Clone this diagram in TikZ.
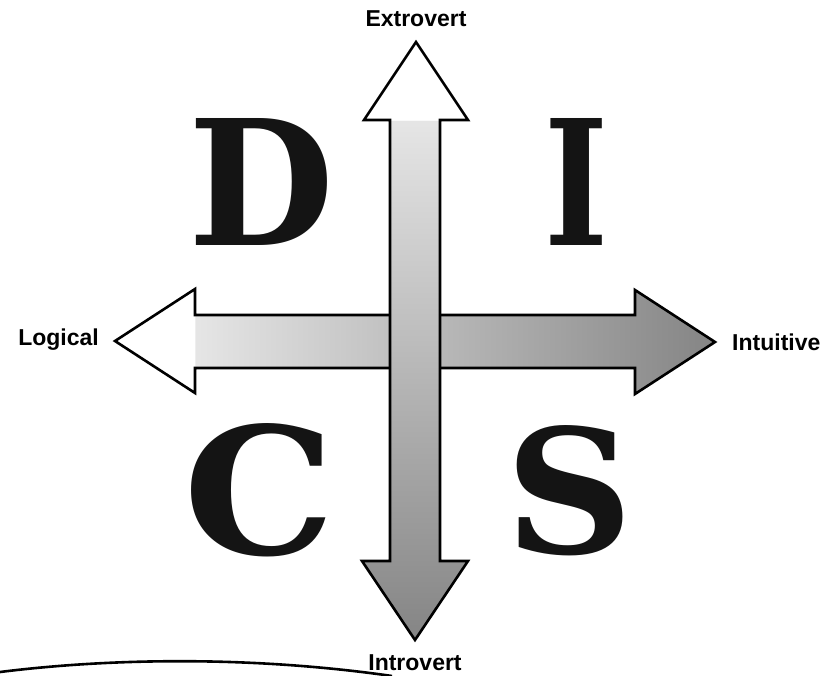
\documentclass[tikz,border=0pt]{standalone}
\usepackage{fontspec}
\usepackage{graphicx}
\setmainfont{Liberation Sans}
\newfontfamily\letterfont{DejaVu Serif}[BoldFont={DejaVu Serif Bold}]
\definecolor{shlight}{gray}{0.90}
\definecolor{shdark}{gray}{0.52}
\pgfdeclareverticalshading{vertshade}{100bp}{color(0bp)=(shdark); color(25bp)=(shdark); color(68.4bp)=(shlight); color(68.5bp)=(white); color(100bp)=(white)}
\pgfdeclarehorizontalshading{horshade}{100bp}{color(0bp)=(white); color(31.6bp)=(white); color(31.7bp)=(shlight); color(75bp)=(shdark); color(100bp)=(shdark)}
\tikzset{
  bigarrow/.style={draw=black, line width=2.6pt, line join=miter},
  axislabel/.style={font=\fontsize{23}{25}\selectfont\bfseries, inner sep=0pt},
  bigletter/.style={inner sep=0pt, text=black!92}
}
\begin{document}
\begin{tikzpicture}[x=1pt,y=-1pt]
\useasboundingbox (0,0) rectangle (832,676);
% horizontal arrow
\path[bigarrow, shading=horshade] (115,341) -- (195,289) -- (195,315) -- (635,315) -- (635,290) -- (715,342) -- (635,394) -- (635,368) -- (195,368) -- (195,393) -- cycle;
% vertical arrow
\path[bigarrow, shading=vertshade] (416,42) -- (468,120) -- (440,120) -- (440,561) -- (468,561) -- (415,640) -- (362,561) -- (390,561) -- (390,120) -- (364,120) -- cycle;
% labels
\node[axislabel] (ext) at (416,19) {Extrovert};
\node[axislabel] (intro) at (415,663) {Introvert};
\node[axislabel, anchor=east] (log) at (99,340) {Logical};
\node[axislabel, anchor=west] (intu) at (732,342) {Intuitive};
% letters
\node[bigletter] (D) at (261,181.5) {\resizebox{146pt}{127pt}{\letterfont\bfseries D}};
\node[bigletter] (I) at (576.5,181.5) {\resizebox{64pt}{127pt}{\letterfont\bfseries I}};
\node[bigletter] (C) at (259.5,490.5) {\resizebox{152pt}{131pt}{\letterfont\bfseries C}};
\node[bigletter] (S) at (570,491) {\resizebox{128pt}{128pt}{\letterfont\bfseries S}};
% bottom curve
\draw[line width=2.6pt] (0,672) .. controls (120,657) and (260,657) .. (392,676);
\end{tikzpicture}
\end{document}
